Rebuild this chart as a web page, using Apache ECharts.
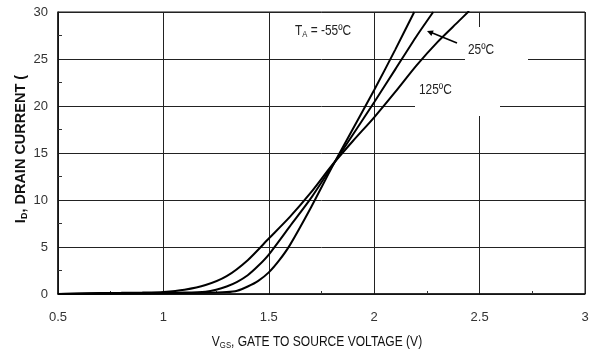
<!DOCTYPE html>
<html><head><meta charset="utf-8">
<script src="https://cdn.jsdelivr.net/npm/echarts@6/dist/echarts.min.js"></script>
<style>html,body{margin:0;padding:0;background:#fff}#c{width:593px;height:363px}</style>
</head><body><div id="c"></div>
<script>
// Axis ticks
const xTicks = [0.5, 1, 1.5, 2, 2.5, 3];
const yTicks = [0, 5, 10, 15, 20, 25, 30];
const seriesNames = ['125ºC', '25ºC', '-55ºC'];

// TA = 125 C
const vgs125 = [0.5,0.6,0.7,0.8,0.9,1.0,1.1,1.2,1.3,1.4,1.5,1.6,1.7,1.8,1.9,2.0,2.1,2.2,2.3,2.4,2.45];
const id125  = [0,0.05,0.1,0.12,0.15,0.22,0.45,0.95,1.9,3.6,5.9,8.2,10.8,13.7,16.3,18.8,21.5,24.3,26.8,29.0,30.1];
// TA = 25 C
const vgs25 = [0.5,0.7,0.9,1.0,1.1,1.2,1.25,1.3,1.35,1.4,1.45,1.5,1.6,1.7,1.8,1.9,2.0,2.1,2.2,2.28];
const id25  = [0,0.05,0.1,0.12,0.15,0.25,0.45,0.8,1.3,2.0,3.0,4.2,7.2,10.2,13.6,17.0,20.4,23.9,27.4,30];
// TA = -55 C
const vgsM55 = [0.5,0.8,1.0,1.2,1.3,1.35,1.4,1.45,1.5,1.55,1.6,1.7,1.8,1.9,2.0,2.1,2.19];
const idM55  = [0,0.05,0.08,0.12,0.2,0.35,0.8,1.4,2.3,3.6,5.2,9.2,13.5,17.6,21.7,26.0,30];

const zip = (xs, ys) => xs.map((x, i) => [x, ys[i]]);
const SANS = '"Liberation Sans", Arial, sans-serif';

const chart = echarts.init(document.getElementById('c'), null, {renderer: 'canvas'});

const lineSeries = (name, xs, ys) => ({
  name, type: 'line', data: zip(xs, ys), showSymbol: false, symbol: 'none',
  smooth: 0.25, clip: true,
  lineStyle: {color: '#000', width: 2}, z: 3, animation: false
});

chart.setOption({
  animation: false,
  backgroundColor: '#fff',
  grid: {left: 58, right: 8, top: 12, bottom: 69, show: true, borderColor: '#111', borderWidth: 1, backgroundColor: 'transparent'},
  xAxis: {
    type: 'value', min: xTicks[0], max: xTicks[xTicks.length - 1], interval: 0.5,
    axisLine: {show: true, lineStyle: {color: '#111', width: 1.5}},
    axisTick: {show: false, inside: true},
    minorTick: {show: true, splitNumber: 2, length: 3, lineStyle: {color: '#333'}},
    splitLine: {show: true, lineStyle: {color: '#222', width: 1}},
    axisLabel: {fontFamily: SANS, fontSize: 13, color: '#333', margin: 17,
      formatter: v => String(v)}
  },
  yAxis: {
    type: 'value', min: yTicks[0], max: yTicks[yTicks.length - 1], interval: 5,
    axisLine: {show: true, lineStyle: {color: '#111', width: 1.5}},
    axisTick: {show: false, inside: true},
    minorTick: {show: true, splitNumber: 2, length: 4, lineStyle: {color: '#333'}},
    splitLine: {show: true, lineStyle: {color: '#222', width: 1}},
    axisLabel: {fontFamily: SANS, fontSize: 13, color: '#333', margin: 10}
  },
  series: [
    lineSeries(seriesNames[0], vgs125, id125),
    lineSeries(seriesNames[1], vgs25, id25),
    lineSeries(seriesNames[2], vgsM55, idM55)
  ],
  graphic: [
    {type: 'rect', shape: {x: 465, y: 27, width: 63, height: 46}, style: {fill: '#fff'}, z: 1},
    {type: 'rect', shape: {x: 415, y: 72, width: 85, height: 44}, style: {fill: '#fff'}, z: 1},
    {type: 'text', x: 468, y: 50, scaleX: 0.85, z: 5, style: {text: '25ºC', font: '14px ' + SANS, fill: '#222', verticalAlign: 'middle', align: 'left'}},
    {type: 'text', x: 419, y: 90, scaleX: 0.85, z: 5, style: {text: '125ºC', font: '14px ' + SANS, fill: '#222', verticalAlign: 'middle', align: 'left'}},
    {type: 'text', x: 295, y: 31, scaleX: 0.85, z: 5, style: {
      text: '{v|T}{s|A}{v| = -55ºC}', verticalAlign: 'middle', align: 'left',
      rich: {
        v: {fontFamily: SANS, fontSize: 14, fill: '#222'},
        s: {fontFamily: SANS, fontSize: 9, fill: '#222', padding: [7, 0, 0, 0]}
      }}},
    {type: 'text', x: 317, y: 342, scaleX: 0.86, z: 5, style: {
      text: '{v|V}{s|GS}{v|, GATE TO SOURCE VOLTAGE (V)}', verticalAlign: 'middle', align: 'center',
      rich: {
        v: {fontFamily: SANS, fontSize: 14, fill: '#111'},
        s: {fontFamily: SANS, fontSize: 9, fill: '#111', padding: [7, 0, 0, 0]}
      }}},
    {type: 'line', z: 5, shape: {x1: 457, y1: 43, x2: 430, y2: 32}, style: {stroke: '#000', lineWidth: 1.5}},
    {type: 'polygon', z: 5, shape: {points: [[427, 31], [433.7, 30.4], [431.4, 36.1]]}, style: {fill: '#000'}},
    {type: 'text', x: 21, y: 149, rotation: Math.PI / 2, z: 5, style: {
      text: '{b|I}{s|D}{b|, DRAIN CURRENT (}', align: 'center', verticalAlign: 'middle',
      rich: {
        b: {fontFamily: SANS, fontWeight: 'bold', fontSize: 14.5, fill: '#111'},
        s: {fontFamily: SANS, fontWeight: 'bold', fontSize: 9, fill: '#111', padding: [7, 0, 0, 0]}
      }}}
  ]
});
</script></body></html>
